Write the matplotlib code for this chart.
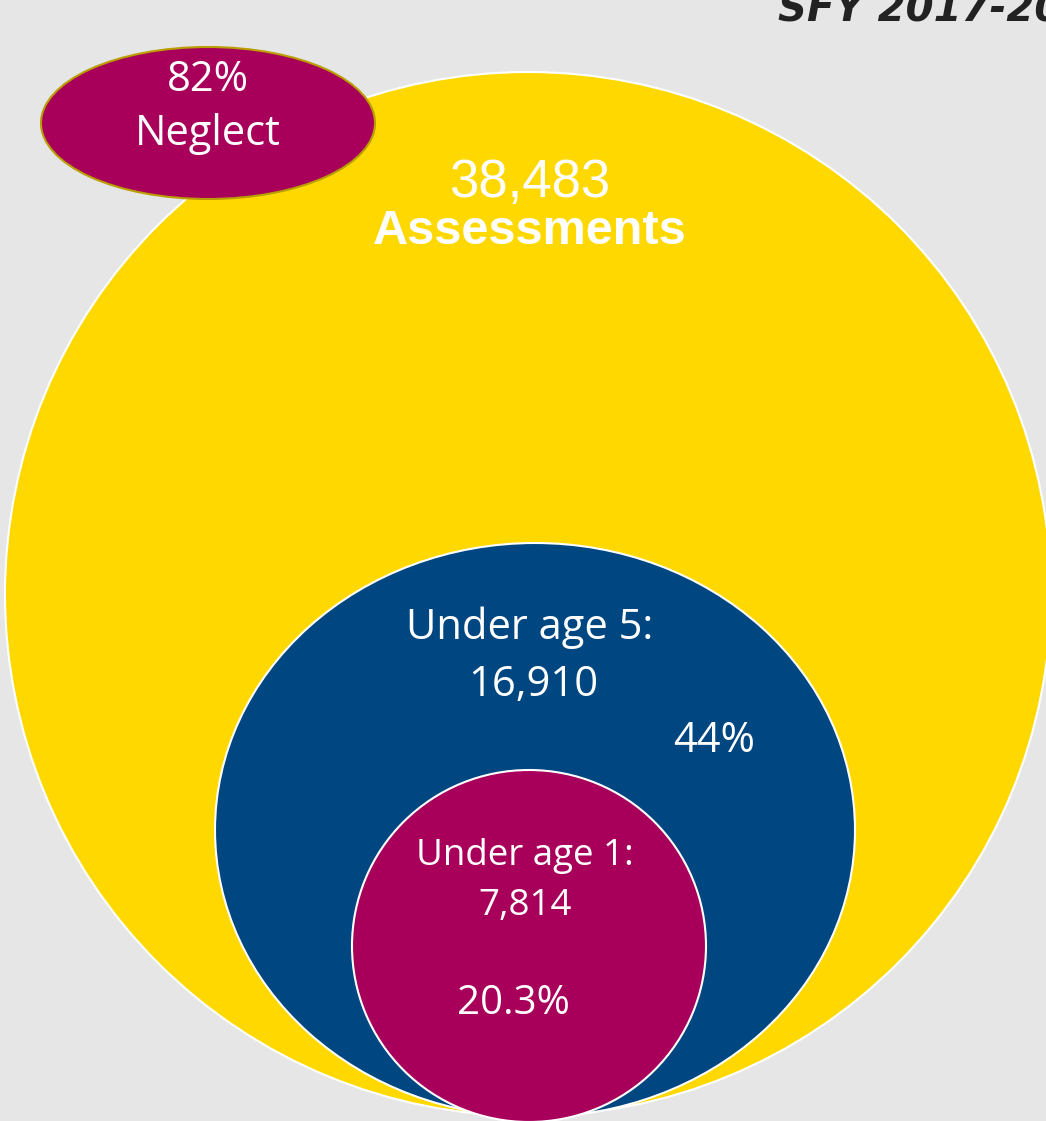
import matplotlib.pyplot as plt
from matplotlib.patches import Ellipse

# data
total_assessments = 38483
group_labels = ['Under age 5:', 'Under age 1:']
group_counts = [16910, 7814]
group_pcts = ['44%', '20.3%']
neglect_pct = '82%'
neglect_label = 'Neglect'
title_text = 'SFY 2017-2018'

bg = '#e6e6e6'
yellow = '#ffd800'
blue = '#004680'
magenta = '#a8005a'

fig = plt.figure(figsize=(10.46, 11.21), dpi=100, facecolor=bg)
ax = fig.add_axes([0, 0, 1, 1])
ax.set_xlim(0, 1046)
ax.set_ylim(1121, 0)
ax.set_facecolor(bg)
ax.axis('off')

# circles (pixel layout)
ax.add_patch(Ellipse((528, 594), 1046, 1044, facecolor=yellow, edgecolor='white', lw=1.5, zorder=1))
ax.add_patch(Ellipse((535, 830), 640, 574, facecolor=blue, edgecolor='white', lw=1.5, zorder=2))
ax.add_patch(Ellipse((529, 946), 354, 352, facecolor=magenta, edgecolor='white', lw=1.5, zorder=3))
ax.add_patch(Ellipse((208, 123), 334, 152, facecolor=magenta, edgecolor='#b89e00', lw=1.5, zorder=4))

# texts
ax.text(778, 21, title_text, fontsize=29, fontweight='bold', fontstyle='italic',
        color='#222222', ha='left', va='baseline', family='DejaVu Sans', zorder=5)

ax.text(530, 183, f'{total_assessments:,}', fontsize=38, color='white', ha='center', va='center',
        family='Liberation Sans', zorder=5)
ax.text(530, 232, 'Assessments', fontsize=35, color='white', ha='center', va='center',
        family='Liberation Sans', fontweight='bold', zorder=5)

ax.text(208, 80, neglect_pct, fontsize=30, color='white', ha='center', va='center', family='Open Sans', zorder=5)
ax.text(208, 134, neglect_label, fontsize=30, color='white', ha='center', va='center', family='Open Sans', zorder=5)

ax.text(530, 628, group_labels[0], fontsize=30, color='white', ha='center', va='center', family='Open Sans', zorder=5)
ax.text(533, 685, f'{group_counts[0]:,}', fontsize=30, color='white', ha='center', va='center', family='Open Sans', zorder=5)
ax.text(714, 741, group_pcts[0], fontsize=30, color='white', ha='center', va='center', family='Open Sans', zorder=5)

ax.text(525, 856, group_labels[1], fontsize=26.5, color='white', ha='center', va='center', family='Open Sans', zorder=5)
ax.text(525, 906, f'{group_counts[1]:,}', fontsize=26.5, color='white', ha='center', va='center', family='Open Sans', zorder=5)
ax.text(513, 1004, group_pcts[1], fontsize=29, color='white', ha='center', va='center', family='Open Sans', zorder=5)

fig.savefig('out.png', dpi=100, facecolor=bg)
